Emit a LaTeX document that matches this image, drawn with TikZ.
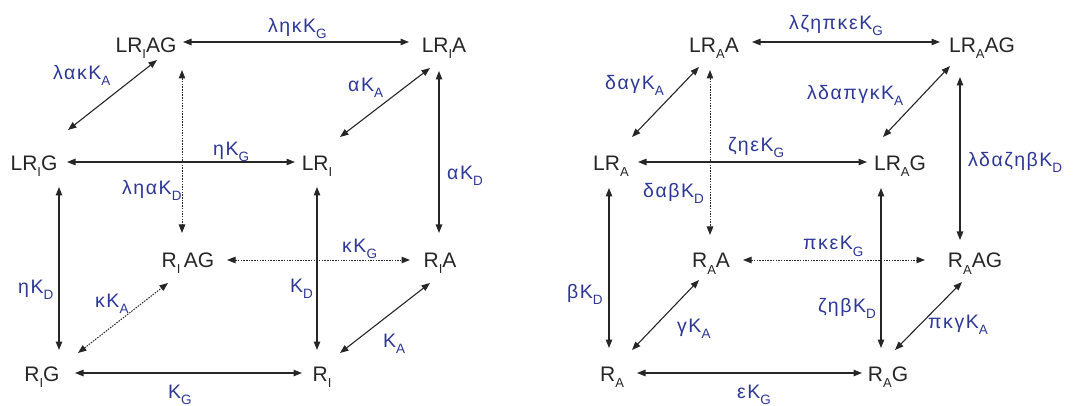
\documentclass[tikz,border=0pt]{standalone}
\usepackage{fontspec}
\setmainfont{Liberation Sans}
\newfontfamily\lblfont[LetterSpace=8]{Liberation Sans}
\usetikzlibrary{arrows.meta}
\definecolor{lblue}{RGB}{45,55,150}
\newcommand\nsub[1]{\raisebox{-6pt}{\fontsize{13}{13}\selectfont #1}}
\newcommand\lsub[1]{\raisebox{-6pt}{\fontsize{13.5}{13.5}\selectfont #1}}
\begin{document}
\begin{tikzpicture}[x=1pt,y=-1pt,
  st/.style={anchor=base, inner sep=0pt, font=\fontsize{21}{21}\selectfont, text=black!85},
  lb/.style={anchor=base west, inner sep=0pt, font=\lblfont\fontsize{19.5}{19.5}\selectfont, text=lblue},
  conn/.style={line width=1.1pt, draw=black!85, {Triangle[length=8.5pt,width=6.5pt]}-{Triangle[length=8.5pt,width=6.5pt]}},
  dconn/.style={conn, dash pattern=on 1.5pt off 1.2pt, line width=1pt}]
\useasboundingbox (0,0) rectangle (1079,406);
% ---------- left cube ----------
\node[st] (lriag) at (146,53) {LR\nsub{I}AG};
\node[st] (lria)  at (444,53) {LR\nsub{I}A};
\node[st] (lrig)  at (34,171) {LR\nsub{I}G};
\node[st] (lri)   at (317,171) {LR\nsub{I}};
\node[st] (riag)  at (188,267) {R\nsub{I}\,AG};
\node[st] (ria)   at (440,267) {R\nsub{I}A};
\node[st] (rig)   at (42,381) {R\nsub{I}G};
\node[st] (ri)    at (322,381) {R\nsub{I}};

\draw[conn] ([shift={(37,-11)}]lriag.base) -- ([shift={(-35,-11)}]lria.base);
\draw[conn] ([shift={(11,7)}]lriag.base) -- ([shift={(34,-41)}]lrig.base);
\draw[dconn] ([shift={(36,17)}]lriag.base) -- ([shift={(-6,-34)}]riag.base);
\draw[conn] ([shift={(-14,15)}]lria.base) -- ([shift={(23,-34)}]lri.base);
\draw[conn] ([shift={(-5,18)}]lria.base) -- ([shift={(-1,-34)}]ria.base);
\draw[conn] ([shift={(33,-9)}]lrig.base) -- ([shift={(-22,-9)}]lri.base);
\draw[conn] ([shift={(25,16)}]lrig.base) -- ([shift={(17,-31)}]rig.base);
\draw[conn] ([shift={(0,16)}]lri.base) -- ([shift={(-5,-31)}]ri.base);
\draw[dconn] ([shift={(39,-7)}]riag.base) -- ([shift={(-30,-7)}]ria.base);
\draw[dconn] ([shift={(36,-28)}]rig.base) -- ([shift={(-20,16)}]riag.base);
\draw[conn] ([shift={(18,-28)}]ri.base) -- ([shift={(-10,16)}]ria.base);
\draw[conn] ([shift={(33,-8)}]rig.base) -- ([shift={(-20,-8)}]ri.base);

\node[lb] (l1)  at (268,33)  {ληκK\lsub{G}};
\node[lb] (l2)  at (53,80)   {λακK\lsub{A}};
\node[lb] (l3)  at (348,92)  {αK\lsub{A}};
\node[lb] (l4)  at (213,156) {ηK\lsub{G}};
\node[lb] (l5)  at (122,195) {ληαK\lsub{D}};
\node[lb] (l6)  at (447,180) {αK\lsub{D}};
\node[lb] (l7)  at (18,293)  {ηK\lsub{D}};
\node[lb] (l8)  at (290,292) {K\lsub{D}};
\node[lb] (l9)  at (342,252) {κK\lsub{G}};
\node[lb] (l10) at (95,307)  {κK\lsub{A}};
\node[lb] (l11) at (383,347) {K\lsub{A}};
\node[lb] (l12) at (168,398) {K\lsub{G}};

% ---------- right cube ----------
\node[st] (lraa)  at (714,53) {LR\nsub{A}A};
\node[st] (lraag) at (982,53) {LR\nsub{A}AG};
\node[st] (lra)   at (611,171) {LR\nsub{A}};
\node[st] (lrag)  at (900,171) {LR\nsub{A}G};
\node[st] (raa)   at (711,268) {R\nsub{A}A};
\node[st] (raag)  at (975,268) {R\nsub{A}AG};
\node[st] (ra)    at (612,381) {R\nsub{A}};
\node[st] (rag)   at (888,381) {R\nsub{A}G};

\draw[conn] ([shift={(38,-11)}]lraa.base) -- ([shift={(-42,-11)}]lraag.base);
\draw[conn] ([shift={(-15,14)}]lraa.base) -- ([shift={(21,-34)}]lra.base);
\draw[dconn] ([shift={(-4,17)}]lraa.base) -- ([shift={(-1,-33)}]raa.base);
\draw[conn] ([shift={(-32,13)}]lraag.base) -- ([shift={(-17,-34)}]lrag.base);
\draw[conn] ([shift={(-22,24)}]lraag.base) -- ([shift={(-15,-28)}]raag.base);
\draw[conn] ([shift={(27,-9)}]lra.base) -- ([shift={(-33,-9)}]lrag.base);
\draw[conn] ([shift={(-2,17)}]lra.base) -- ([shift={(-3,-33)}]ra.base);
\draw[conn] ([shift={(-19,17)}]lrag.base) -- ([shift={(-7,-33)}]rag.base);
\draw[dconn] ([shift={(32,-8)}]raa.base) -- ([shift={(-50,-8)}]raag.base);
\draw[conn] ([shift={(20,-31)}]ra.base) -- ([shift={(-12,12)}]raa.base);
\draw[conn] ([shift={(7,-31)}]rag.base) -- ([shift={(-13,14)}]raag.base);
\draw[conn] ([shift={(25,-8)}]ra.base) -- ([shift={(-26,-8)}]rag.base);

\node[lb] (r1)  at (789,30)  {λζηπκεK\lsub{G}};
\node[lb] (r2)  at (605,90)  {δαγK\lsub{A}};
\node[lb] (r3)  at (807,100) {λδαπγκK\lsub{A}};
\node[lb] (r4)  at (728,152) {ζηεK\lsub{G}};
\node[lb] (r5)  at (643,198) {δαβK\lsub{D}};
\node[lb] (r6)  at (968,167) {λδαζηβK\lsub{D}};
\node[lb] (r7)  at (567,298) {βK\lsub{D}};
\node[lb] (r8)  at (803,250) {πκεK\lsub{G}};
\node[lb] (r9)  at (818,312) {ζηβK\lsub{D}};
\node[lb] (r10) at (677,332) {γK\lsub{A}};
\node[lb] (r11) at (928,328) {πκγK\lsub{A}};
\node[lb] (r12) at (737,398) {εK\lsub{G}};
\end{tikzpicture}
\end{document}
